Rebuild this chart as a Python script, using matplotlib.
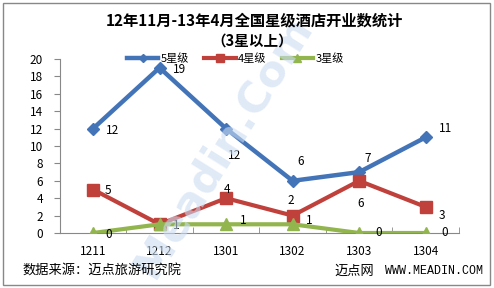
import matplotlib
matplotlib.use("Agg")
import matplotlib.pyplot as plt
from matplotlib.patches import Rectangle

plt.rcParams['font.family'] = ['Noto Sans CJK SC', 'DejaVu Sans']

months = ["1211", "1212", "1301", "1302", "1303", "1304"]
star5 = [12, 19, 12, 6, 7, 11]
star4 = [5, 1, 4, 2, 6, 3]
star3 = [0, 1, 1, 1, 0, 0]
series_names = ["5星级", "4星级", "3星级"]

# label offsets in points (x, y) for each data label, None = no label
off5 = [(14, -1), (14, -1), (6, -19), (6, 14), (6, 10), (14, 6)]
off4 = [(11, -1), (12, -1), (1, 6), (-1, 11), (1, -16), (12, -6)]
off3 = [(11, -1), None, (12, 3), (12, 3), (14, 0), (14, 0)]

blue = "#4374B8"
red = "#C0403C"
green = "#92B54E"

fig = plt.figure(figsize=(4.94, 2.88), dpi=100)
ax = fig.add_axes([0.121, 0.191, 0.808, 0.604])

# watermark
fig.text(0.45, 0.49, "Meadin.Com", rotation=58, ha="center", va="center",
         fontsize=31, color="#CCDDF3", alpha=0.6, fontweight="bold", zorder=0,
         family="DejaVu Sans")

x = list(range(len(months)))
ax.plot(x, star5, color=blue, lw=3.2, marker="D", ms=6, label=series_names[0], zorder=3)
ax.plot(x, star4, color=red, lw=3.0, marker="s", ms=8, label=series_names[1], zorder=4)
ax.plot(x, star3, color=green, lw=3.0, marker="^", ms=8, label=series_names[2], zorder=5)
ax.patch.set_alpha(0)

for vals, offs in [(star5, off5), (star4, off4), (star3, off3)]:
    for i, v in enumerate(vals):
        if offs[i] is None:
            continue
        dx, dy = offs[i]
        ax.annotate(str(v), (i, v), xytext=(dx, dy), textcoords="offset points",
                    ha="center", va="center", fontsize=8.5, color="black", zorder=6)

ax.set_xlim(-0.5, 5.5)
ax.set_ylim(0, 20)
ax.set_yticks(range(0, 21, 2))
ax.set_xticks(x)
ax.set_xticklabels(months)
ax.set_xticks([i + 0.5 for i in range(-1, 6)], minor=True)
ax.tick_params(axis="x", which="major", length=0, pad=9, labelsize=8.5)
ax.tick_params(axis="x", which="minor", length=4, direction="in", color="#888888")
ax.tick_params(axis="y", length=4, direction="out", color="#888888", labelsize=8.5, pad=8)
for s in ["top", "right"]:
    ax.spines[s].set_visible(False)
ax.spines["left"].set_color("#888888")
ax.spines["bottom"].set_color("#888888")

ax.legend(loc="upper center", bbox_to_anchor=(0.44, 1.06), ncol=3, frameon=False,
          fontsize=8, handlelength=2.8, columnspacing=1.4, handletextpad=0.2,
          borderaxespad=0, markerscale=0.7)

fig.text(0.515, 0.928, "12年11月-13年4月全国星级酒店开业数统计", ha="center", va="center",
         fontsize=11, fontweight="bold")
fig.text(0.51, 0.860, "（3星以上）", ha="center", va="center", fontsize=10.5, fontweight="bold")

fig.text(0.045, 0.058, "数据来源：迈点旅游研究院", ha="left", va="center", fontsize=9.5)
fig.text(0.676, 0.058, "迈点网", ha="left", va="center", fontsize=9.5)
fig.text(0.78, 0.058, "WWW.MEADIN.COM", ha="left", va="center", fontsize=8.4,
         family="Liberation Mono")

fig.patches.append(Rectangle((0.006, 0.01), 0.986, 0.98, transform=fig.transFigure,
                             fill=False, edgecolor="#888888", lw=1.0))

fig.savefig("out.png", dpi=100)
